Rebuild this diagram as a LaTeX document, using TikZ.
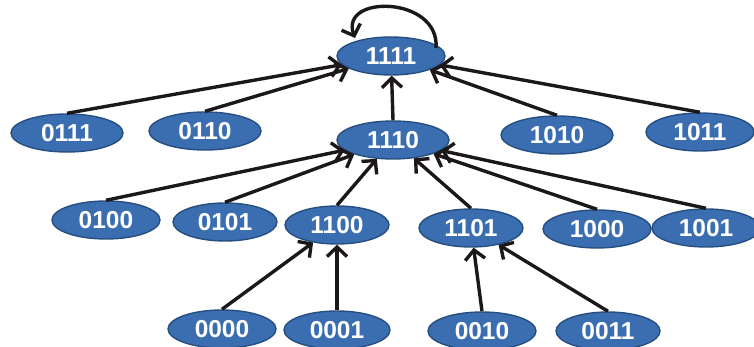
\documentclass[tikz,border=0pt]{standalone}
\usepackage{fontspec}
\setmainfont{Liberation Sans}
\usetikzlibrary{shapes.geometric,arrows.meta,calc}
\definecolor{statefill}{RGB}{58,110,176}
\definecolor{stateedge}{RGB}{38,78,128}
\definecolor{arrowink}{RGB}{28,24,26}
\begin{document}
\begin{tikzpicture}[x=1pt,y=1pt,
  state/.style={ellipse, fill=statefill, draw=stateedge, line width=1.4pt,
    minimum width=108pt, minimum height=38pt, inner sep=0pt,
    text=white, font=\fontsize{24.5}{26}\selectfont\bfseries},
  arr/.style={draw=arrowink, line width=3.4pt,
    -{Straight Barb[length=9.5pt,width=20pt,line width=3.4pt]}}]
\useasboundingbox (0,0) rectangle (754,347);

% top state
\node[state] (s1111) at (391,291) {1111};
% second level
\node[state, minimum width=112pt] (s0111) at (67,214) {0111};
\node[state, minimum width=112pt] (s0110) at (205,216) {0110};
\node[state, minimum width=112pt] (s1110) at (393,207) {1110};
\node[state, minimum width=112pt] (s1010) at (557,212) {1010};
\node[state] (s1011) at (700,215) {1011};
% third level
\node[state] (s0100) at (106,127) {0100};
\node[state, minimum width=104pt] (s0101) at (225,125) {0101};
\node[state, minimum width=104pt] (s1100) at (337,122) {1100};
\node[state, minimum width=104pt] (s1101) at (471,119) {1101};
\node[state] (s1000) at (597,118) {1000};
\node[state] (s1001) at (706,119) {1001};
% bottom level
\node[state] (s0000) at (222,18) {0000};
\node[state, minimum width=106pt] (s0001) at (337,17) {0001};
\node[state] (s0010) at (482,16) {0010};
\node[state, minimum width=104pt] (s0011) at (608,16) {0011};

% self transition of 1111
\coordinate (loopout) at ($(s1111.center)+(45,8)$);
\coordinate (loopin) at ($(s1111.center)+(-36,18)$);
\draw[arr] (loopout) .. controls +(4,52) and +(-16,44) .. (loopin);

% transitions into 1111
\draw[arr] (s0111.north) -- (s1111);
\draw[arr] (s0110.north) -- (s1111);
\draw[arr] (s1110.north) -- (s1111);
\draw[arr] (s1010.north) -- (s1111);
\draw[arr] (s1011.north) -- (s1111);

% transitions into 1110
\draw[arr] (s0100.north) -- (s1110);
\draw[arr] (s0101.north) -- (s1110);
\draw[arr] (s1100.north) -- (s1110);
\draw[arr] (s1101.north) -- (s1110);
\draw[arr] (s1000.north) -- (s1110);
\draw[arr] (s1001.north) -- (s1110);

% transitions into 1100 and 1101
\draw[arr] (s0000.north) -- (s1100);
\draw[arr] (s0001.north) -- (s1100);
\draw[arr] (s0010.north) -- (s1101);
\draw[arr] (s0011.north) -- (s1101);
\end{tikzpicture}
\end{document}
